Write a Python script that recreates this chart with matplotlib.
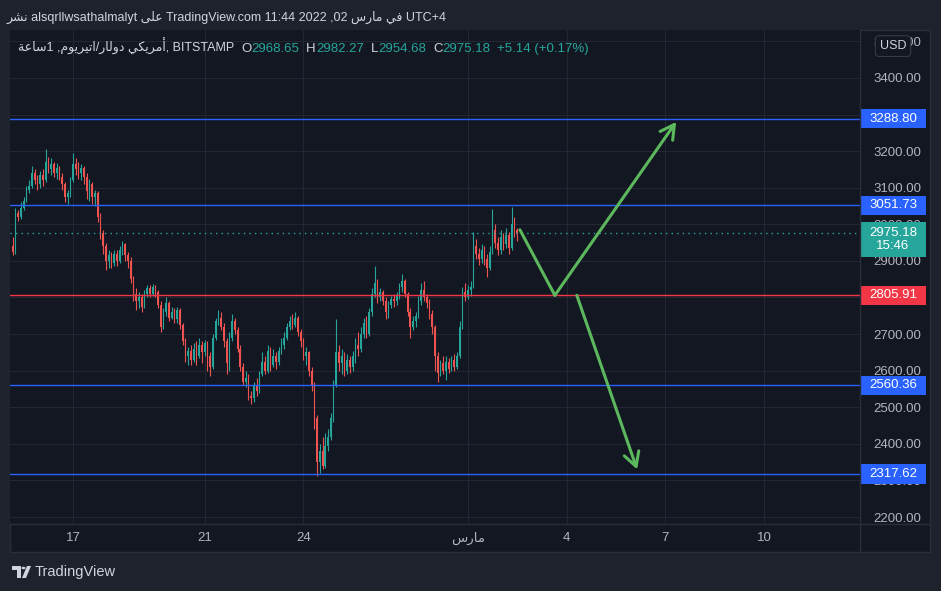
import numpy as np
import pandas as pd
import matplotlib
matplotlib.use("Agg")
import matplotlib.pyplot as plt
import matplotlib.dates as mdates
from matplotlib.patches import Rectangle, Polygon, Circle
from matplotlib.lines import Line2D

plt.rcParams['font.family'] = ['Liberation Sans', 'DejaVu Sans']

# ETH/USD, BITSTAMP - 2h candles (open = previous close)
start = "2022-02-15 04:00"
first_open = 2940
closes = [2925, 3030, 3020, 3045, 3065, 3095, 3105, 3140, 3120, 3110,
          3135, 3120, 3170, 3150, 3165, 3140, 3155, 3130, 3110, 3075,
          3085, 3120, 3165, 3150, 3140, 3155, 3130, 3090, 3110, 3075,
          3085, 3020, 2975, 2940, 2900, 2915, 2895, 2920, 2900, 2930,
          2945, 2915, 2900, 2850, 2810, 2790, 2800, 2775, 2810, 2825,
          2810, 2830, 2815, 2780, 2720, 2760, 2785, 2745, 2760, 2740,
          2765, 2725, 2680, 2640, 2655, 2630, 2660, 2640, 2670, 2650,
          2675, 2640, 2610, 2690, 2735, 2745, 2720, 2680, 2620, 2690,
          2735, 2710, 2660, 2610, 2570, 2580, 2530, 2525, 2560, 2545,
          2590, 2625, 2600, 2655, 2615, 2640, 2625, 2655, 2670, 2690,
          2720, 2735, 2725, 2745, 2705, 2680, 2640, 2650, 2600, 2560,
          2470, 2350, 2380, 2340, 2395, 2420, 2470, 2560, 2650, 2620,
          2640, 2600, 2630, 2610, 2640, 2670, 2660, 2700, 2730, 2700,
          2760, 2810, 2840, 2800, 2815, 2790, 2760, 2780, 2795, 2790,
          2805, 2830, 2845, 2810, 2760, 2720, 2735, 2750, 2790, 2820,
          2800, 2785, 2755, 2720, 2640, 2595, 2620, 2600, 2625, 2605,
          2630, 2610, 2640, 2720, 2815, 2800, 2820, 2830, 2940, 2920,
          2905, 2930, 2905, 2880, 2925, 2985, 2950, 2930, 2965, 2945,
          2970, 2935, 3000, 2985, 2975.18]
highs = [2965, 3045, 3040, 3060, 3075, 3105, 3120, 3160, 3150, 3135,
         3145, 3150, 3205, 3185, 3180, 3170, 3168, 3160, 3140, 3115,
         3095, 3130, 3195, 3180, 3170, 3165, 3160, 3140, 3125, 3115,
         3095, 3090, 3030, 2985, 2950, 2930, 2925, 2930, 2930, 2940,
         2955, 2950, 2925, 2910, 2860, 2825, 2815, 2810, 2820, 2835,
         2835, 2838, 2835, 2820, 2790, 2770, 2800, 2790, 2775, 2770,
         2775, 2770, 2730, 2690, 2665, 2670, 2675, 2680, 2690, 2680,
         2685, 2680, 2650, 2700, 2745, 2765, 2760, 2730, 2690, 2705,
         2755, 2745, 2720, 2670, 2620, 2600, 2590, 2545, 2570, 2580,
         2600, 2650, 2640, 2670, 2665, 2660, 2650, 2665, 2690, 2705,
         2730, 2750, 2755, 2760, 2750, 2715, 2690, 2665, 2655, 2610,
         2570, 2480, 2400, 2420, 2430, 2440, 2485, 2575, 2740, 2670,
         2660, 2650, 2645, 2640, 2655, 2690, 2705, 2720, 2745, 2750,
         2770, 2825, 2885, 2850, 2825, 2820, 2800, 2790, 2805, 2810,
         2815, 2840, 2865, 2850, 2815, 2770, 2750, 2760, 2805, 2840,
         2845, 2810, 2795, 2765, 2725, 2650, 2630, 2640, 2640, 2635,
         2640, 2645, 2650, 2735, 2830, 2840, 2835, 2845, 2980, 2960,
         2935, 2945, 2940, 2920, 2940, 3043, 3000, 2965, 2985, 2975,
         2990, 2980, 3048, 3020, 2990]
lows = [2915, 2920, 3010, 3015, 3040, 3060, 3085, 3100, 3110, 3095,
        3100, 3105, 3115, 3140, 3135, 3130, 3125, 3120, 3095, 3060,
        3055, 3075, 3115, 3135, 3125, 3120, 3110, 3070, 3065, 3055,
        3050, 3005, 2960, 2920, 2875, 2880, 2880, 2885, 2885, 2895,
        2915, 2900, 2880, 2840, 2790, 2765, 2770, 2760, 2770, 2800,
        2800, 2805, 2800, 2770, 2705, 2715, 2750, 2735, 2740, 2730,
        2730, 2715, 2670, 2625, 2615, 2615, 2625, 2615, 2635, 2620,
        2640, 2600, 2585, 2605, 2685, 2725, 2710, 2665, 2590, 2600,
        2680, 2700, 2650, 2600, 2560, 2555, 2520, 2510, 2515, 2530,
        2540, 2585, 2590, 2595, 2600, 2610, 2605, 2615, 2645, 2660,
        2685, 2710, 2715, 2720, 2695, 2665, 2630, 2615, 2585, 2545,
        2440, 2312, 2320, 2330, 2335, 2380, 2410, 2460, 2555, 2600,
        2590, 2585, 2590, 2595, 2600, 2620, 2640, 2650, 2690, 2690,
        2695, 2750, 2800, 2785, 2790, 2780, 2740, 2745, 2770, 2775,
        2780, 2795, 2815, 2800, 2750, 2690, 2710, 2720, 2745, 2780,
        2790, 2770, 2740, 2700, 2600, 2568, 2585, 2590, 2575, 2595,
        2600, 2600, 2605, 2635, 2715, 2790, 2795, 2805, 2825, 2905,
        2890, 2895, 2890, 2857, 2875, 2920, 2935, 2915, 2920, 2930,
        2935, 2920, 2930, 2965, 2955]

blue_levels = [3288.80, 3051.73, 2560.36, 2317.62]
red_level = 2805.91
last_price = 2975.18
last_ohlc = [2968.65, 2982.27, 2954.68, 2975.18]
change, change_pct = 5.14, 0.17
countdown = "15:46"

# drawn scenario (date, price)
up_dates = ["2022-03-02 14:00", "2022-03-03 15:30", "2022-03-07 08:00"]
up_prices = [2985, 2806, 3280]
down_dates = ["2022-03-04 07:30", "2022-03-06 03:30"]
down_prices = [2806, 2330]

tick_dates = ["2022-02-17", "2022-02-21", "2022-02-24", "2022-03-01",
              "2022-03-04", "2022-03-07", "2022-03-10"]
tick_labels = ["17", "21", "24", "\uFEB1\uFEAD\uFE8E\uFEE3", "4", "7", "10"]
price_ticks = [2200, 2300, 2400, 2500, 2600, 2700, 2900, 3000, 3100, 3200, 3400, 3500]

BG_OUT = '#1e222d'
BG = '#131722'
BORDER = '#2a2e39'
TXT = '#b2b5be'
UP = '#26a69a'
DOWN = '#ef5350'
BLUE = '#2962ff'
RED = '#f23645'
GREEN = '#5cb85c'

W, H = 941, 591
def fx(px):
    return px / W
def fy(py):
    return 1 - py / H

fig = plt.figure(figsize=(W / 100, H / 100), dpi=100, facecolor=BG_OUT)
panel = Rectangle((fx(10), fy(552)), fx(920), 522 / H, transform=fig.transFigure,
                  facecolor=BG, edgecolor=BORDER, lw=1, zorder=-5)
fig.patches.append(panel)

ax = fig.add_axes([fx(10), fy(524), fx(850), 494 / H])
ax.set_facecolor(BG)
for s in ax.spines.values():
    s.set_visible(False)

times = pd.date_range(start, periods=len(closes), freq="2h")
x = mdates.date2num(times.to_pydatetime())
opens = np.array([first_open] + closes[:-1], dtype=float)
closes_a = np.array(closes, dtype=float)
colors = np.where(closes_a >= opens, UP, DOWN)

ax.vlines(x, lows, highs, colors=colors, lw=0.8, zorder=3)
body = np.maximum(np.abs(closes_a - opens), 1.5)
ax.bar(x, body, bottom=np.minimum(opens, closes_a), width=2 / 24 * 0.55,
       color=colors, lw=0, zorder=3)

ref = pd.Timestamp("2022-02-17")
ax.set_xlim(mdates.date2num((ref - pd.Timedelta(days=1.915)).to_pydatetime()),
            mdates.date2num((ref + pd.Timedelta(days=23.92)).to_pydatetime()))
ax.set_ylim(2181, 3531)

ax.set_xticks(mdates.date2num(pd.to_datetime(tick_dates).to_pydatetime()))
ax.set_xticklabels(tick_labels)
ax.set_yticks(price_ticks)
ax.set_yticks(np.arange(2200, 3501, 100), minor=True)
ax.yaxis.set_major_formatter(matplotlib.ticker.FormatStrFormatter('%.2f'))
ax.yaxis.tick_right()
ax.tick_params(axis='y', which='both', length=0, pad=9.5, labelsize=9.5, labelcolor=TXT)
ax.tick_params(axis='x', length=0, pad=6, labelsize=9.5, labelcolor=TXT)
ax.grid(which='both', color='#232733', lw=0.8, zorder=0)
ax.set_axisbelow(True)

# horizontal levels
for lv in blue_levels:
    ax.axhline(lv, color=BLUE, lw=1, zorder=4)
ax.axhline(red_level, color=RED, lw=1, zorder=4)
ax.axhline(last_price, color=UP, lw=1, ls=(0, (1, 3)), zorder=4)

# scenario arrows
xu = mdates.date2num(pd.to_datetime(up_dates).to_pydatetime())
xd = mdates.date2num(pd.to_datetime(down_dates).to_pydatetime())
head = '->,head_length=1.0,head_width=0.55'
ax.plot(xu[:2], up_prices[:2], color=GREEN, lw=2.2, solid_capstyle='round', zorder=5)
ax.annotate('', xy=(xu[2], up_prices[2]), xytext=(xu[1], up_prices[1]),
            arrowprops=dict(arrowstyle=head, color=GREEN, lw=2.2, shrinkA=0, shrinkB=0), zorder=5)
ax.annotate('', xy=(xd[1], down_prices[1]), xytext=(xd[0], down_prices[0]),
            arrowprops=dict(arrowstyle=head, color=GREEN, lw=2.2, shrinkA=0, shrinkB=0), zorder=5)

# price tags on the right scale
ytr = ax.get_yaxis_transform()
def price_tag(y0, y1, lines, color):
    ax.add_patch(Rectangle((1.0012, y0), 0.0765, y1 - y0, transform=ytr, facecolor=color,
                           edgecolor='none', clip_on=False, zorder=6))
    ax.text(1.0388, (y0 + y1) / 2, lines, transform=ytr, ha='center', va='center',
            color='white', fontsize=9.5, linespacing=1.2, clip_on=False, zorder=7)

for lv in blue_levels:
    price_tag(lv - 26, lv + 26, f"{lv:.2f}", BLUE)
price_tag(red_level - 26, red_level + 26, f"{red_level:.2f}", RED)
price_tag(2911, 3006, f"{last_price:.2f}\n{countdown}", UP)

ax.text(1.0388, 3487, "USD", transform=ytr, ha='center', va='center',
        color='#d1d4dc', fontsize=9, clip_on=False, zorder=8,
        bbox=dict(boxstyle='round,pad=0.35,rounding_size=0.3', fc=BG, ec='#363a45', lw=0.8))

# panel separators
fig.add_artist(Line2D([fx(860), fx(860)], [fy(30), fy(552)], color=BORDER, lw=1))
fig.add_artist(Line2D([fx(10), fx(930)], [fy(524), fy(524)], color=BORDER, lw=1))

# title line (Arabic written in visual order with presentation forms)
nashr = "\uFEAE\uFEB8\uFEE7"
ala = "\uFEF0\uFEE0\uFECB"
fi_maris = "\uFEB1\uFEAD\uFE8E\uFEE3 \uFEF2\uFED3"
title = f"{nashr} alsqrllwsathalmalyt {ala} TradingView.com 11:44 2022 ,02 {fi_maris} UTC+4"
fig.text(fx(6), fy(17), title, color='#d1d4dc', fontsize=9, ha='left', va='center')

# legend line
saa = "\uFE94\uFECB\uFE8E\uFEB3"
amriki = "\uFEF2\uFEDC\uFEF3\uFEAE\uFEE3\uFE83"
dollar = "\uFEAD\uFE8E\uFEDF\uFEED\uFEA9"
ether = "\uFEE1\uFEEE\uFEF3\uFEAE\uFEF4\uFE97\uFE8D"
symbol = f"{saa}1 ,{ether}/{dollar} {amriki}, BITSTAMP"
parts = []
for lab, val in zip("OHLC", last_ohlc):
    parts.append((lab, '#d1d4dc', 5))
    parts.append((f"{val:.2f}", UP, 0))
parts.append((f"+{change:.2f} (+{change_pct:.2f}%)", UP, 5))

last_art = fig.text(fx(18), fy(46), symbol, color='#d1d4dc', fontsize=9, ha='left', va='center')
for s, c, gap in parts:
    last_art = ax.annotate(s, xy=(1, 0), xycoords=last_art, xytext=(gap, 0),
                           textcoords='offset points', ha='left', va='bottom', color=c,
                           fontsize=9.5, annotation_clip=False, zorder=8)

# TradingView watermark
tv = '#d1d4dc'
fig.patches.append(Polygon([(fx(12), fy(566)), (fx(21), fy(566)), (fx(21), fy(578)), (fx(17), fy(578)),
                            (fx(17), fy(570)), (fx(12), fy(570))], closed=True,
                           transform=fig.transFigure, facecolor=tv, edgecolor='none'))
fig.patches.append(Circle((fx(23.5), fy(568)), 2.0 / W, transform=fig.transFigure,
                          facecolor=tv, edgecolor='none'))
fig.patches.append(Polygon([(fx(27), fy(566)), (fx(31), fy(566)), (fx(26), fy(578)), (fx(22), fy(578))],
                           closed=True, transform=fig.transFigure, facecolor=tv, edgecolor='none'))
fig.text(fx(35), fy(572), "TradingView", color=tv, fontsize=10.5, ha='left', va='center')

fig.savefig("out.png", dpi=100, facecolor=BG_OUT)
